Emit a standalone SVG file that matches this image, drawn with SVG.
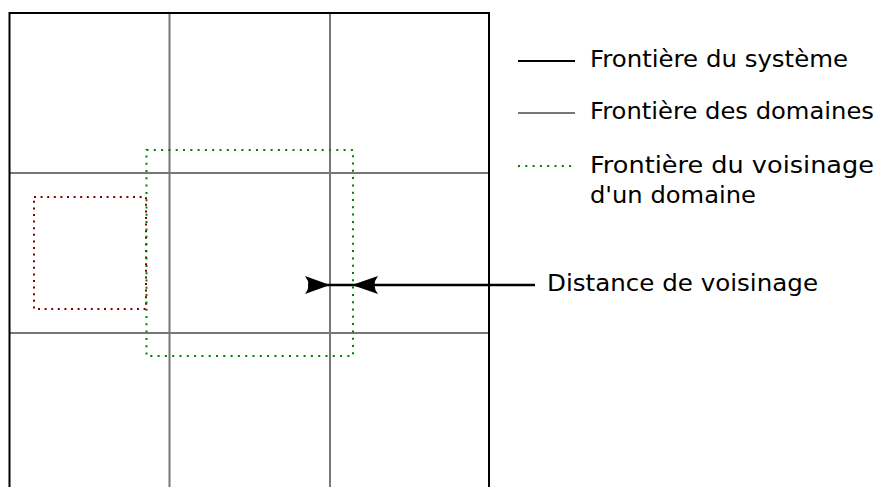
<svg xmlns="http://www.w3.org/2000/svg" width="879" height="487" viewBox="0 0 879 487">
<style>
.sys{stroke:#000;stroke-width:2;fill:none}
.dom{stroke:#777;stroke-width:2;fill:none}
.nb{stroke:#008000;stroke-width:2;stroke-dasharray:2,5.3;fill:none}
.nbr{stroke:#800000;stroke-width:2;stroke-dasharray:2,4.6;fill:none}
text{font-family:"DejaVu Sans",sans-serif;font-size:22.4px;fill:#000}
</style>
<rect width="879" height="487" fill="#fff"/>
<g id="grid">
<line class="dom" x1="169.5" y1="13" x2="169.5" y2="487"/>
<line class="dom" x1="330" y1="13" x2="330" y2="487"/>
<line class="dom" x1="10" y1="173" x2="489" y2="173"/>
<line class="dom" x1="10" y1="333" x2="489" y2="333"/>
</g>
<g id="system">
<path class="sys" d="M9.5,490 V13 H489 V490"/>
</g>
<g id="neighbourhood-red">
<rect class="nbr" x="34" y="197" width="112" height="112"/>
</g>
<g id="neighbourhood-green">
<rect class="nb" x="146.5" y="150" width="206.5" height="206"/>
</g>
<g id="connectors">
<line x1="308" y1="285" x2="535" y2="285" stroke="#000" stroke-width="2.5"/>
<path d="M330,285 L305,276 Q312,285 305,294 Z" fill="#000"/>
<path d="M352,285 L378,276 Q371,285 378,294 Z" fill="#000"/>
</g>
<g id="label-distance"><text x="547" y="291" textLength="271" lengthAdjust="spacingAndGlyphs">Distance de voisinage</text></g>
<g id="legend">
<line class="sys" x1="518" y1="61" x2="575" y2="61"/>
<text x="590" y="67" textLength="258" lengthAdjust="spacingAndGlyphs">Frontière du système</text>
<line class="dom" x1="518" y1="113" x2="575" y2="113"/>
<text x="590" y="119" textLength="284" lengthAdjust="spacingAndGlyphs">Frontière des domaines</text>
<line class="nb" x1="518" y1="166" x2="575" y2="166"/>
<text x="590" y="173" textLength="284" lengthAdjust="spacingAndGlyphs">Frontière du voisinage</text>
<text x="590" y="203" textLength="166" lengthAdjust="spacingAndGlyphs">d'un domaine</text>
</g>
</svg>
